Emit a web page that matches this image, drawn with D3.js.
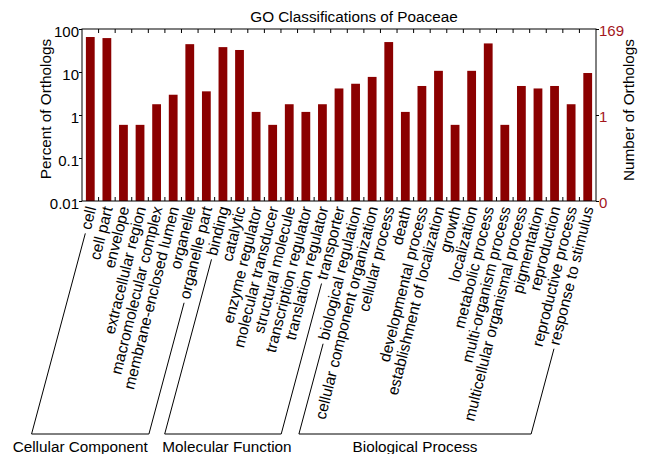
<!DOCTYPE html>
<html>
<head>
<meta charset="utf-8">
<script src="https://cdn.jsdelivr.net/npm/d3@7"></script>
<style>
  body { margin: 0; background: #fff; }
  svg { font-family: "Liberation Sans", Arial, sans-serif; }
</style>
</head>
<body>
<script>
(function(d3) {

  // GO terms, in the order they are drawn
  var categories = [
    "cell", "cell part", "envelope", "extracellular region", "macromolecular complex",
    "membrane-enclosed lumen", "organelle", "organelle part",
    "binding", "catalytic", "enzyme regulator", "molecular transducer",
    "structural molecule", "transcription regulator", "translation regulator", "transporter",
    "biological regulation", "cellular component organization", "cellular process", "death",
    "developmental process", "establishment of localization", "growth", "localization",
    "metabolic process", "multi-organism process", "multicellular organismal process",
    "pigmentation", "reproduction", "reproductive process", "response to stimulus"
  ];

  // Percent of orthologs per term
  var percents = [
    65.1, 61.5, 0.59, 0.59, 1.78, 2.96, 44.4, 3.55,
    37.9, 32.5, 1.18, 0.59, 1.78, 1.18, 1.78, 4.14,
    5.33, 7.69, 49.7, 1.18, 4.73, 10.65, 0.59, 10.65,
    46.2, 0.59, 4.73, 4.14, 4.73, 1.78, 9.47
  ];

  // Groups along the x axis and how many terms each holds
  var groupNames = ["Cellular Component", "Molecular Function", "Biological Process"];
  var groupSizes = [8, 8, 15];
  var groupLabelShift = [-10, 4, 0];

  // Left and right axis ticks
  var leftTicks = [100, 10, 1, 0.1, 0.01];
  var leftTickLabels = ["100", "10", "1", "0.1", "0.01"];
  var rightTicks = [100, 1, 0.01];
  var rightTickLabels = ["169", "1", "0"];

  var width = 647, height = 454;
  var plot = { left: 82, right: 596, top: 29, bottom: 201 };
  var barColor = "#8b0000",
    rightColor = "#a3161c",
    textAngle = -76,   // rotation of the category labels
    legAngle = 75;     // slope of the bracket legs

  var svg = d3.select("body").append("svg")
    .attr("width", width)
    .attr("height", height);

  var x = d3.scaleBand()
    .domain(categories)
    .range([plot.left, plot.right])
    .paddingInner(0.47)
    .paddingOuter(0.235);

  var y = d3.scaleLog()
    .domain([0.01, 100])
    .range([plot.bottom, plot.top]);

  // Bars
  svg.append("g").selectAll("rect")
    .data(categories)
    .enter().append("rect")
    .attr("x", function(d) { return x(d); })
    .attr("width", x.bandwidth())
    .attr("y", function(d, i) { return y(percents[i]); })
    .attr("height", function(d, i) { return plot.bottom - y(percents[i]); })
    .attr("fill", barColor);

  // Frame
  svg.append("rect")
    .attr("x", plot.left).attr("y", plot.top)
    .attr("width", plot.right - plot.left)
    .attr("height", plot.bottom - plot.top)
    .attr("fill", "none")
    .attr("stroke", "#000");

  // Small inward ticks between bars on top and bottom edges
  var bounds = d3.range(1, categories.length).map(function(k) {
    return plot.left + k * x.step();
  });
  var edgeTicks = svg.append("g").attr("stroke", "#000");
  bounds.forEach(function(bx) {
    edgeTicks.append("line").attr("x1", bx).attr("x2", bx)
      .attr("y1", plot.top).attr("y2", plot.top + 4);
    edgeTicks.append("line").attr("x1", bx).attr("x2", bx)
      .attr("y1", plot.bottom).attr("y2", plot.bottom - 4);
  });

  // Left axis
  var leftAxis = svg.append("g")
    .attr("transform", "translate(" + plot.left + ",0)")
    .call(d3.axisLeft(y)
      .tickValues(leftTicks)
      .tickFormat(function(d, i) { return leftTickLabels[i]; })
      .tickSize(3)
      .tickPadding(0));
  leftAxis.select(".domain").remove();
  leftAxis.selectAll("text")
    .attr("font-size", 15)
    .attr("font-family", "Liberation Sans, Arial, sans-serif")
    .attr("fill", "#000")
    .attr("dy", "0.5em");

  // Right axis
  var rightAxis = svg.append("g")
    .attr("transform", "translate(" + plot.right + ",0)")
    .call(d3.axisRight(y)
      .tickValues(rightTicks)
      .tickFormat(function(d, i) { return rightTickLabels[i]; })
      .tickSize(3)
      .tickPadding(0));
  rightAxis.select(".domain").remove();
  rightAxis.selectAll("text")
    .attr("font-size", 15)
    .attr("font-family", "Liberation Sans, Arial, sans-serif")
    .attr("fill", rightColor)
    .attr("dy", "0.45em");

  // Titles
  svg.append("text")
    .attr("x", 354).attr("y", 22)
    .attr("text-anchor", "middle")
    .attr("font-size", 15.3)
    .text("GO Classifications of Poaceae");

  svg.append("text")
    .attr("transform", "translate(51,109) rotate(-90)")
    .attr("text-anchor", "middle")
    .attr("font-size", 15.3)
    .text("Percent of Orthologs");

  svg.append("text")
    .attr("transform", "translate(634,110) rotate(-90)")
    .attr("text-anchor", "middle")
    .attr("font-size", 15.3)
    .text("Number of Orthologs");

  // Rotated category labels
  var rad = textAngle * Math.PI / 180,
    dirDown = [-Math.cos(rad), -Math.sin(rad)],   // from text end toward text start
    up = [Math.sin(rad), -Math.cos(rad)];          // glyph "up" after rotation
  var legRad = legAngle * Math.PI / 180,
    legDir = [-Math.cos(legRad), Math.sin(legRad)];

  var labelY = 208;
  var labels = svg.append("g").selectAll("text")
    .data(categories)
    .enter().append("text")
    .attr("transform", function(d) {
      var lx = x(d) + x.bandwidth() / 2 + 6;
      return "translate(" + lx + "," + labelY + ") rotate(" + textAngle + ")";
    })
    .attr("text-anchor", "end")
    .attr("font-size", 15.5)
    .text(function(d) { return d; });

  var lengths = [];
  labels.each(function() { lengths.push(this.getComputedTextLength()); });

  // Group brackets, drawn from the first and last label of each group
  var bracketY = 434;
  function legStart(i) {
    var ex = x(categories[i]) + x.bandwidth() / 2 + 6,
      ey = labelY,
      L = lengths[i] + 4;
    return [ex + L * dirDown[0] + 4.5 * up[0], ey + L * dirDown[1] + 4.5 * up[1]];
  }
  function legEnd(p) {
    var t = (bracketY - p[1]) / legDir[1];
    return [p[0] + t * legDir[0], bracketY];
  }

  var start = 0;
  groupNames.forEach(function(name, g) {
    var first = start, last = start + groupSizes[g] - 1;
    var a = legStart(first), b = legEnd(a),
      d = legStart(last), c = legEnd(d);
    svg.append("path")
      .attr("d", d3.line()([a, b, c, d]))
      .attr("fill", "none")
      .attr("stroke", "#000");
    svg.append("text")
      .attr("x", (b[0] + c[0]) / 2 + groupLabelShift[g])
      .attr("y", 452)
      .attr("text-anchor", "middle")
      .attr("font-size", 15.3)
      .text(name);
    start = last + 1;
  });

})(d3);
</script>
</body>
</html>
